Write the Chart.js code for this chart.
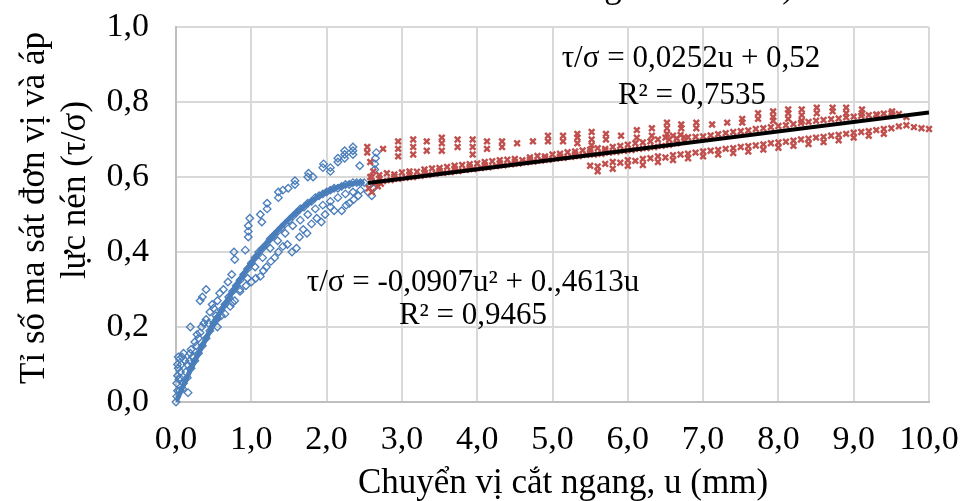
<!DOCTYPE html>
<html>
<head>
<meta charset="utf-8">
<script src="https://cdn.jsdelivr.net/npm/chart.js@4/dist/chart.umd.min.js"></script>
<style>
  html, body { margin: 0; padding: 0; background: #fff; }
  canvas { display: block; }
</style>
</head>
<body>
<canvas id="c" width="961" height="501"></canvas>
<script>
/* ===== data: [u (mm), tau/sigma] ===== */
const blueOrigin = [[0,0],[0.01,0.015],[0.02,0.03],[0.01,0.05],[0.02,0.07],[0.03,0.09],[0.04,0.06],[0.06,0.08],
  [0.07,0.1],[0.12,0.11],[0.13,0.08],[0.15,0.1],[0.18,0.11],[0.2,0.14],[0.22,0.12],[0.27,0.15],[0.3,0.17],
  [0.34,0.2],[0.37,0.21],[0.4,0.22],[0.43,0.21],[0.5,0.25],[0.53,0.23]];
const blueMain = [[0.05,0.03],[0.1,0.05],[0.15,0.065],[0.2,0.09],[0.25,0.11],[0.3,0.13],[0.35,0.15],[0.4,0.17],
  [0.45,0.19],[0.5,0.21],[0.55,0.225],[0.6,0.245],[0.65,0.26],[0.7,0.28],[0.75,0.295],[0.8,0.31],[0.85,0.325],
  [0.9,0.34],[0.95,0.355],[1.0,0.37],[1.05,0.385],[1.1,0.4],[1.15,0.41],[1.2,0.42],[1.25,0.435],[1.3,0.445],
  [1.35,0.455],[1.4,0.465],[1.45,0.475],[1.5,0.485],[1.55,0.495],[1.6,0.505],[1.65,0.515],[1.7,0.52],[1.75,0.53],
  [1.8,0.535],[1.85,0.545],[1.9,0.55],[1.95,0.555],[2.0,0.56],[2.05,0.565],[2.1,0.57],[2.15,0.57],[2.2,0.575],
  [2.25,0.58],[2.3,0.58],[2.35,0.585],[2.4,0.585],[2.45,0.585],[2.5,0.585]];
const blueUpper = [[0.19,0.2],[0.35,0.28],[0.32,0.27],[0.4,0.3],[0.74,0.34],[0.77,0.4],[0.78,0.38],[0.92,0.405],
  [0.96,0.44],[0.96,0.455],[0.96,0.47],[0.98,0.49],[1.12,0.5],[1.14,0.48],[1.21,0.515],[1.21,0.53],[1.36,0.545],
  [1.36,0.56],[1.42,0.565],[1.49,0.57],[1.58,0.58],[1.58,0.59],[1.75,0.6],[1.76,0.61],[1.82,0.6],[1.95,0.625],
  [1.96,0.635],[2.05,0.615],[2.05,0.625],[2.15,0.64],[2.15,0.65],[2.24,0.65],[2.24,0.66],[2.24,0.67],[2.35,0.66],
  [2.35,0.67],[2.35,0.68],[2.44,0.63],[2.64,0.62],[2.64,0.635],[2.65,0.65],[2.66,0.665],[0.1,0.13],[0.08,0.12],
  [0.05,0.115],[0.03,0.12],[0.02,0.1],[0.25,0.16],[0.28,0.18],[0.45,0.24],[0.48,0.26],[0.55,0.27],[0.58,0.29],
  [0.63,0.3],[0.69,0.32]];
const blueLower = [[0.16,0.025],[0.09,0.035],[0.05,0.065],[0.19,0.13],[0.32,0.185],[0.54,0.22],[0.6,0.23],
  [0.72,0.255],[0.78,0.27],[0.85,0.3],[0.93,0.31],[1.0,0.32],[1.06,0.33],[1.12,0.335],[1.16,0.35],[1.2,0.36],
  [1.26,0.375],[1.31,0.385],[1.36,0.4],[1.42,0.415],[1.48,0.42],[1.54,0.4],[1.6,0.41],[1.64,0.44],[1.69,0.46],
  [1.74,0.45],[1.8,0.475],[1.87,0.49],[1.93,0.48],[1.98,0.5],[2.05,0.52],[2.1,0.51],[2.2,0.51],[2.26,0.525],
  [2.3,0.53],[2.36,0.54],[2.42,0.55],[0.55,0.2],[0.65,0.235],[0.75,0.265],[0.85,0.295],[0.95,0.33],[1.05,0.36],
  [1.15,0.385],[1.25,0.41],[1.35,0.43],[1.45,0.45],[1.55,0.47],[1.65,0.485],[1.75,0.5],[1.85,0.515],[1.95,0.525],
  [2.05,0.535],[2.15,0.545],[2.25,0.555],[2.35,0.56],[2.45,0.565],[2.55,0.56],[2.6,0.55],[2.58,0.58],[2.62,0.57]];

const redUpper = [[2.54,0.665],[2.54,0.68],[2.75,0.675],[2.95,0.655],[2.95,0.675],[2.95,0.695],[3.15,0.66],
  [3.15,0.68],[3.15,0.7],[3.33,0.67],[3.33,0.695],[3.53,0.67],[3.53,0.69],[3.53,0.705],[3.74,0.68],[3.74,0.7],
  [3.94,0.66],[3.94,0.68],[3.94,0.7],[4.13,0.675],[4.13,0.695],[4.33,0.68],[4.33,0.695],[4.53,0.69],[4.74,0.695],
  [4.94,0.695],[4.94,0.71],[5.14,0.695],[5.14,0.71],[5.33,0.69],[5.33,0.705],[5.33,0.715],[5.52,0.685],[5.52,0.7],
  [5.52,0.72],[5.71,0.7],[5.71,0.715],[5.91,0.71],[6.12,0.705],[6.12,0.725],[6.32,0.71],[6.32,0.73],[6.52,0.715],
  [6.52,0.73],[6.52,0.745],[6.71,0.73],[6.71,0.74],[6.91,0.73],[6.91,0.745],[7.12,0.74],[7.32,0.745],[7.52,0.745],
  [7.52,0.755],[7.73,0.755],[7.73,0.77],[7.93,0.75],[7.93,0.76],[7.93,0.775],[8.13,0.755],[8.13,0.77],[8.13,0.78],
  [8.31,0.75],[8.31,0.765],[8.31,0.78],[8.51,0.77],[8.51,0.785],[8.72,0.775],[8.72,0.785],[8.9,0.77],[8.9,0.785],
  [9.11,0.77],[9.11,0.78],[9.31,0.765],[9.51,0.765],[9.51,0.775]];
const redMid = [[2.6,0.6],[2.7,0.605],[2.8,0.61],[2.9,0.607],[3.0,0.612],[3.1,0.615],[3.2,0.614],[3.3,0.62],
  [3.4,0.623],[3.5,0.624],[3.6,0.627],[3.7,0.63],[3.8,0.632],[3.9,0.634],[4.0,0.636],[4.1,0.64],[4.2,0.642],
  [4.3,0.645],[4.4,0.646],[4.5,0.648],[4.6,0.645],[4.7,0.652],[4.8,0.656],[4.9,0.655],[5.0,0.66],[5.1,0.662],
  [5.2,0.666],[5.3,0.668],[5.4,0.671],[5.5,0.673],[5.6,0.677],[5.7,0.675],[5.8,0.68],[5.9,0.683],[6.0,0.686],
  [6.1,0.69],[6.2,0.692],[6.3,0.695],[6.4,0.7],[6.5,0.705],[6.6,0.71],[6.7,0.712],[6.8,0.706],[6.9,0.707],
  [7.0,0.708],[7.1,0.711],[7.2,0.714],[7.3,0.717],[7.4,0.72],[7.5,0.722],[7.6,0.724],[7.7,0.728],[7.8,0.73],
  [7.9,0.733],[8.0,0.736],[8.1,0.738],[8.2,0.741],[8.3,0.744],[8.4,0.747],[8.5,0.75],[8.6,0.752],[8.7,0.754],
  [8.8,0.756],[8.9,0.759],[9.0,0.761],[9.1,0.763],[9.2,0.765],[9.3,0.767],[9.4,0.769],[9.5,0.77],[9.6,0.768],
  [9.7,0.76],[2.65,0.585],[2.75,0.589],[2.85,0.592],[2.95,0.595],[3.05,0.598],[3.15,0.6],[3.25,0.603],[3.35,0.606],
  [3.45,0.609],[3.55,0.611],[3.65,0.613],[3.75,0.616],[3.85,0.619],[3.95,0.621],[4.05,0.624],[4.15,0.626],
  [4.25,0.629],[4.35,0.631],[4.45,0.634],[4.55,0.636],[4.65,0.639],[4.75,0.641],[4.85,0.644],[4.95,0.646],
  [5.05,0.649],[5.15,0.651],[5.25,0.654],[5.35,0.656],[5.45,0.659],[5.55,0.66],[5.65,0.662],[5.75,0.665],
  [5.85,0.667],[5.95,0.67],[6.05,0.672],[6.15,0.675],[6.25,0.677],[6.35,0.68],[6.45,0.683],[6.55,0.686],
  [6.65,0.69],[6.75,0.695],[2.7,0.596],[2.9,0.601],[3.1,0.607],[3.3,0.612],[3.5,0.617],[3.7,0.622],[3.9,0.627],
  [4.1,0.632],[4.3,0.637],[4.5,0.641],[4.7,0.646],[4.9,0.65],[5.1,0.655],[5.3,0.661],[5.5,0.666],[5.7,0.67],
  [6.55,0.7],[6.65,0.703],[6.75,0.706]];
const redLower = [[2.56,0.57],[2.6,0.56],[2.68,0.575],[2.72,0.582],[2.58,0.6],[2.62,0.615],[2.58,0.64],
  [5.5,0.63],[5.6,0.628],[5.7,0.635],[5.8,0.64],[5.9,0.638],[6.0,0.645],[6.1,0.643],[6.2,0.648],[6.3,0.65],
  [6.4,0.655],[6.5,0.652],[6.6,0.658],[6.7,0.66],[6.8,0.662],[6.9,0.665],[7.0,0.668],[7.1,0.67],[7.2,0.672],
  [7.3,0.675],[7.4,0.677],[7.5,0.68],[7.6,0.682],[7.7,0.684],[7.8,0.687],[7.9,0.69],[8.0,0.692],[8.1,0.694],
  [8.2,0.697],[8.3,0.7],[8.4,0.702],[8.5,0.705],[8.6,0.707],[8.7,0.71],[8.8,0.712],[8.9,0.715],[9.0,0.718],
  [9.1,0.72],[9.2,0.722],[9.3,0.725],[9.4,0.728],[9.5,0.73],[9.6,0.735],[9.7,0.738],[9.8,0.733],[9.9,0.73],
  [10.0,0.728],[5.6,0.615],[5.8,0.622],[6.0,0.63],[6.2,0.632],[6.4,0.64],[6.6,0.645],[6.8,0.65],[7.0,0.655],
  [7.2,0.66],[7.4,0.664],[7.6,0.668],[7.8,0.673],[8.0,0.678],[8.2,0.683],[8.4,0.688],[8.6,0.693],[8.8,0.698],
  [9.0,0.705],[9.2,0.71],[9.4,0.715]];

/* trend lines as drawn */
const polyU = [0,0.1,0.2,0.3,0.4,0.5,0.6,0.7,0.8,0.9,1.0,1.1,1.2,1.3,1.4,1.5,1.6,1.7,1.8,1.9,2.0,2.1,2.2,2.3,2.4,2.5];
const polyV = [0,0.045,0.089,0.13,0.17,0.208,0.244,0.278,0.311,0.342,0.371,0.398,0.423,0.446,0.468,0.488,0.506,
  0.522,0.536,0.549,0.56,0.569,0.576,0.581,0.585,0.586];
const linU = [2.55, 10];
const linV = [0.584, 0.772];

const xTicks = [0,1,2,3,4,5,6,7,8,9,10];
const yTicks = [0,0.2,0.4,0.6,0.8,1.0];

const BLUE = '#4a7ebb';
const RED = '#c0504d';
const FONT = '"Liberation Serif", "Times New Roman", serif';

const pts = arr => arr.map(p => ({ x: p[0], y: p[1] }));
const comma = (v, d) => v.toFixed(d).replace('.', ',');

/* ===== texts: axis titles + trendline equations ===== */
function drawRotated(c, text, x, y) {
  c.save();
  c.translate(x, y);
  c.rotate(-Math.PI / 2);
  c.fillText(text, 0, 0);
  c.restore();
}

const textPlugin = {
  id: 'texts',
  afterDraw(chart) {
    const c = chart.ctx;
    c.save();
    c.fillStyle = '#000';
    c.textAlign = 'center';
    c.textBaseline = 'middle';

    c.font = '31px ' + FONT;
    c.fillText('τ/σ = 0,0252u + 0,52', 691, 59);
    c.fillText('R² = 0,7535', 692, 96);
    c.fillText('τ/σ = -0,0907u² + 0.,4613u', 473, 283);
    c.fillText('R² = 0,9465', 473, 316);

    c.font = '35px ' + FONT;
    c.fillText('Chuyển vị cắt ngang, u (mm)', 563, 484);
    drawRotated(c, 'Tỉ số ma sát đơn vị và áp', 35, 208);
    drawRotated(c, 'lực nén (τ/σ)', 76, 190);

    // bottoms of the chart title, cut off by the top edge of the picture
    c.textBaseline = 'alphabetic';
    c.fillText('g', 613, -3);
    c.fillText(')', 788, -3);
    c.restore();
  }
};

/* no automatic label overhang padding: plot area fixed by layout padding */
const noPad = s => { s.paddingLeft = 0; s.paddingRight = 0; s.paddingTop = 0; s.paddingBottom = 0; };

const ctx = document.getElementById('c').getContext('2d');
new Chart(ctx, {
  type: 'scatter',
  data: {
    datasets: [
      { label: 'poly', type: 'line', data: polyU.map((u, i) => ({ x: u, y: polyV[i] })),
        borderColor: BLUE, borderWidth: 5, pointRadius: 0, tension: 0.3, fill: false, order: 0 },
      { label: 'lin', type: 'line', data: linU.map((u, i) => ({ x: u, y: linV[i] })),
        borderColor: '#000', borderWidth: 4, pointRadius: 0, fill: false, order: 0 },
      { label: 'red', data: pts([].concat(redUpper, redMid, redLower)),
        pointStyle: 'crossRot', pointRadius: 4, borderColor: RED, borderWidth: 2.4,
        backgroundColor: RED, clip: false, order: 1 },
      { label: 'blue', data: pts([].concat(blueOrigin, blueMain, blueUpper, blueLower)),
        pointStyle: 'rectRot', pointRadius: 3.8, borderColor: BLUE, borderWidth: 1.3,
        backgroundColor: 'rgba(0,0,0,0)', clip: false, order: 2 }
    ]
  },
  options: {
    responsive: false,
    animation: false,
    layout: { padding: { top: 27, right: 32, left: 0, bottom: 0 } },
    plugins: { legend: { display: false }, tooltip: { enabled: false } },
    scales: {
      x: {
        type: 'linear', min: 0, max: 10,
        afterFit: s => { s.height = 99; noPad(s); },
        afterBuildTicks: s => { s.ticks = xTicks.map(v => ({ value: v })); },
        ticks: { color: '#000', font: { family: FONT, size: 34 }, padding: 18, maxRotation: 0,
                 autoSkip: false, callback: v => comma(v, 1) },
        grid: { color: '#d9d9d9', lineWidth: 2, drawTicks: false },
        border: { color: '#bfbfbf', width: 2 }
      },
      y: {
        type: 'linear', min: 0, max: 1,
        afterFit: s => { s.width = 176; noPad(s); },
        afterBuildTicks: s => { s.ticks = yTicks.map(v => ({ value: v })); },
        ticks: { color: '#000', font: { family: FONT, size: 34 }, padding: 27,
                 callback: v => comma(v, 1) },
        grid: { color: '#d9d9d9', lineWidth: 2, drawTicks: false },
        border: { color: '#bfbfbf', width: 2 }
      }
    }
  },
  plugins: [textPlugin]
});
</script>
</body>
</html>
